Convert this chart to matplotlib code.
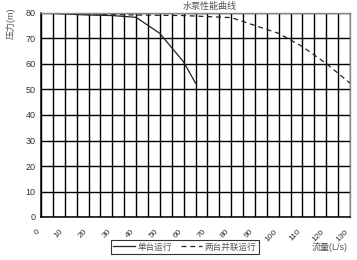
import matplotlib
matplotlib.use("Agg")
import matplotlib.pyplot as plt
import numpy as np

plt.rcParams['font.family'] = ['Liberation Sans', 'Noto Sans CJK SC', 'DejaVu Sans']

title = "水泵性能曲线"
xlabel = "流量(L/s)"
ylabel = "压力(m)"

single_x = [0, 10, 20, 30, 40, 50, 60, 65]
single_y = [80, 79.6, 79.2, 79.0, 78.3, 72.0, 60.8, 52.5]
parallel_x = [0, 20, 40, 60, 80, 100, 110, 120, 130]
parallel_y = [80, 79.6, 79.2, 79.0, 78.2, 72.0, 66.8, 60.2, 52.5]
series_labels = ["单台运行", "两台并联运行"]

xgrid = np.arange(0, 131, 5)
yticks = np.arange(0, 81, 10)

W, H = 357, 260
fig = plt.figure(figsize=(W / 100, H / 100), dpi=100)
ax = fig.add_axes([41 / W, 1 - 217 / H, (350 - 41) / W, (217 - 13) / H])

ax.set_xlim(0, 130)
ax.set_ylim(0, 80)
ax.set_xticks(xgrid)
ax.set_yticks(yticks)
ax.grid(True, which='major', color='black', linewidth=1.0)
ax.set_axisbelow(True)

ax.set_xticklabels([str(v) if v % 10 == 0 else "" for v in xgrid],
                   rotation=45, ha='right', fontsize=6, color='#333333')
ax.set_yticklabels([str(v) for v in yticks], fontsize=6.5, color='#333333')
ax.tick_params(axis='x', length=0, pad=8)
ax.tick_params(axis='y', length=0, pad=4)

for s in ['left', 'bottom']:
    ax.spines[s].set_color('black')
    ax.spines[s].set_linewidth(1.1)
for s in ['top', 'right']:
    ax.spines[s].set_color('#888888')
    ax.spines[s].set_linewidth(1.0)

l1, = ax.plot(single_x, single_y, color='#222222', linewidth=0.9, label=series_labels[0])
l2, = ax.plot(parallel_x, parallel_y, color='#222222', linewidth=0.9, linestyle=(0, (4, 3)),
              label=series_labels[1])

fig.text(210 / W, 1 - 6 / H, title, ha='center', va='center', fontsize=6.5, color='#555555')
fig.text(11 / W, 1 - 23 / H, ylabel, ha='center', va='center', rotation=90, fontsize=6.5, color='#555555')
fig.text(330 / W, 1 - 247 / H, xlabel, ha='center', va='center', fontsize=6.5, color='#555555')

leg = fig.legend(handles=[l1, l2], loc='center', bbox_to_anchor=(185 / W, 1 - 247 / H),
                 ncol=2, fontsize=6.2, frameon=True, fancybox=False, handlelength=2.5,
                 handletextpad=0.3, columnspacing=1.0, borderpad=0.3)
leg.get_frame().set_edgecolor('black')
leg.get_frame().set_linewidth(0.8)
for t in leg.get_texts():
    t.set_color('#555555')

fig.savefig("out.png", dpi=100)
